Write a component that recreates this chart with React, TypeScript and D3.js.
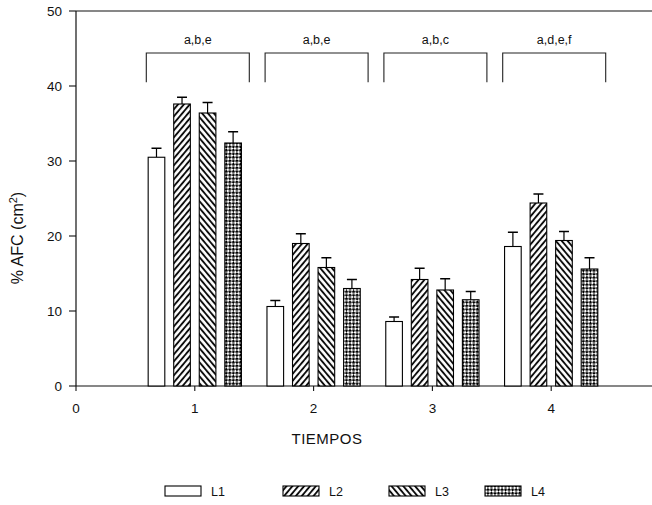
import React from "react";
import * as d3 from "d3";

// Sampling times on the x axis
const tiempos = [1, 2, 3, 4];
// Series names
const series = ["L1", "L2", "L3", "L4"];
// Mean %AFC per time, one array per series
const L1 = [30.5, 10.6, 8.6, 18.6];
const L2 = [37.6, 19.0, 14.2, 24.4];
const L3 = [36.4, 15.8, 12.8, 19.4];
const L4 = [32.4, 13.0, 11.5, 15.6];
// Standard errors
const L1err = [1.2, 0.8, 0.6, 1.9];
const L2err = [0.9, 1.3, 1.5, 1.2];
const L3err = [1.4, 1.3, 1.5, 1.2];
const L4err = [1.5, 1.2, 1.1, 1.5];
// Significance letters above each group
const letras = ["a,b,e", "a,b,e", "a,b,c", "a,d,e,f"];
// Axis ticks
const yTicks = [0, 10, 20, 30, 40, 50];
const xTicks = [0, 1, 2, 3, 4];

const values = [L1, L2, L3, L4];
const errors = [L1err, L2err, L3err, L4err];
const fills = ["#fff", "url(#pL2)", "url(#pL3)", "url(#pL4)"];

const W = 652;
const H = 505;
const font = "Liberation Sans, Arial, Helvetica, sans-serif";

export default function App() {
  const x = d3.scaleLinear().domain([0, 5]).range([76, 76 + 5 * 118.8]);
  const y = d3.scaleLinear().domain([0, 50]).range([386, 11]);
  const slot = 0.215;
  const bw = x(0.14) - x(0);
  const capW = 10;

  const bars: any[] = [];
  tiempos.forEach((t, gi) => {
    series.forEach((s, si) => {
      const cx = x(t + (si - 1.5) * slot);
      const v = values[si][gi];
      const e = errors[si][gi];
      bars.push(
        <g key={`${s}-${t}`}>
          <line x1={cx} x2={cx} y1={y(v)} y2={y(v + e)} stroke="#000" strokeWidth={1.2} />
          <line x1={cx - capW / 2} x2={cx + capW / 2} y1={y(v + e)} y2={y(v + e)} stroke="#000" strokeWidth={1.5} />
          <rect x={cx - bw / 2} y={y(v)} width={bw} height={y(0) - y(v)} fill={fills[si]} stroke="#000" strokeWidth={1.1} />
        </g>
      );
    });
  });

  const brTop = y(44.4);
  const brBot = y(40.5);
  const brackets = tiempos.map((t, gi) => {
    const c = x(t) + 3;
    const l = c - 51.5;
    const r = c + 51.5;
    return (
      <g key={`br-${t}`}>
        <path d={`M${l},${brBot}V${brTop}H${r}V${brBot}`} fill="none" stroke="#222" strokeWidth={1.1} />
        <text x={c} y={brTop - 9} textAnchor="middle" fontSize={12.5} fontFamily={font} fill="#111">
          {letras[gi]}
        </text>
      </g>
    );
  });

  const legendX = [165, 283, 389, 485];

  return (
    <svg width={W} height={H} style={{ position: "absolute", left: 0, top: 0, background: "#fff" }}>
      <defs>
        <pattern id="pL2" width={4.5} height={4.5} patternUnits="userSpaceOnUse" patternTransform="rotate(40)">
          <rect width={4.5} height={4.5} fill="#fff" />
          <line x1={1} x2={1} y1={0} y2={4.5} stroke="#000" strokeWidth={1.8} />
        </pattern>
        <pattern id="pL3" width={4.5} height={4.5} patternUnits="userSpaceOnUse" patternTransform="rotate(-40)">
          <rect width={4.5} height={4.5} fill="#fff" />
          <line x1={1} x2={1} y1={0} y2={4.5} stroke="#000" strokeWidth={1.8} />
        </pattern>
        <pattern id="pL4" width={5} height={5} patternUnits="userSpaceOnUse" patternTransform="rotate(45)">
          <rect width={5} height={5} fill="#fff" />
          <rect width={2.6} height={2.6} fill="#000" />
          <rect x={2.5} y={2.5} width={2.6} height={2.6} fill="#000" />
        </pattern>
      </defs>

      {/* frame lines */}
      <line x1={x(0)} x2={W} y1={y(50)} y2={y(50)} stroke="#111" strokeWidth={1.2} />
      <line x1={x(0)} x2={x(0)} y1={y(50)} y2={y(0)} stroke="#111" strokeWidth={1.2} />
      <line x1={x(0)} x2={W} y1={y(0)} y2={y(0)} stroke="#111" strokeWidth={1.2} />

      {yTicks.map((t) => (
        <g key={`yt-${t}`}>
          <line x1={x(0) - 7} x2={x(0)} y1={y(t)} y2={y(t)} stroke="#111" strokeWidth={1.1} />
          <text x={62} y={y(t) + 4.5} textAnchor="end" fontSize={13.5} fontFamily={font} fill="#111">
            {t}
          </text>
        </g>
      ))}
      {xTicks.map((t) => (
        <g key={`xt-${t}`}>
          <line x1={x(t)} x2={x(t)} y1={y(0)} y2={y(0) + 5} stroke="#111" strokeWidth={1.1} />
          <text x={x(t)} y={413} textAnchor="middle" fontSize={13.5} fontFamily={font} fill="#111">
            {t}
          </text>
        </g>
      ))}

      {bars}
      {brackets}

      <text x={327} y={444} textAnchor="middle" fontSize={15} fontFamily={font} fill="#111" letterSpacing={0.5}>
        TIEMPOS
      </text>
      <text transform="translate(23,238) rotate(-90)" textAnchor="middle" fontSize={16} fontFamily={font} fill="#111">
        % AFC (cm<tspan dy={-6} fontSize={11}>2</tspan><tspan dy={6}>)</tspan>
      </text>

      {series.map((s, si) => (
        <g key={`lg-${s}`}>
          <rect x={legendX[si]} y={486} width={36} height={10} fill={fills[si]} stroke="#000" strokeWidth={1.1} />
          <text x={legendX[si] + 46} y={496} fontSize={12.5} fontFamily={font} fill="#111">
            {s}
          </text>
        </g>
      ))}
    </svg>
  );
}
